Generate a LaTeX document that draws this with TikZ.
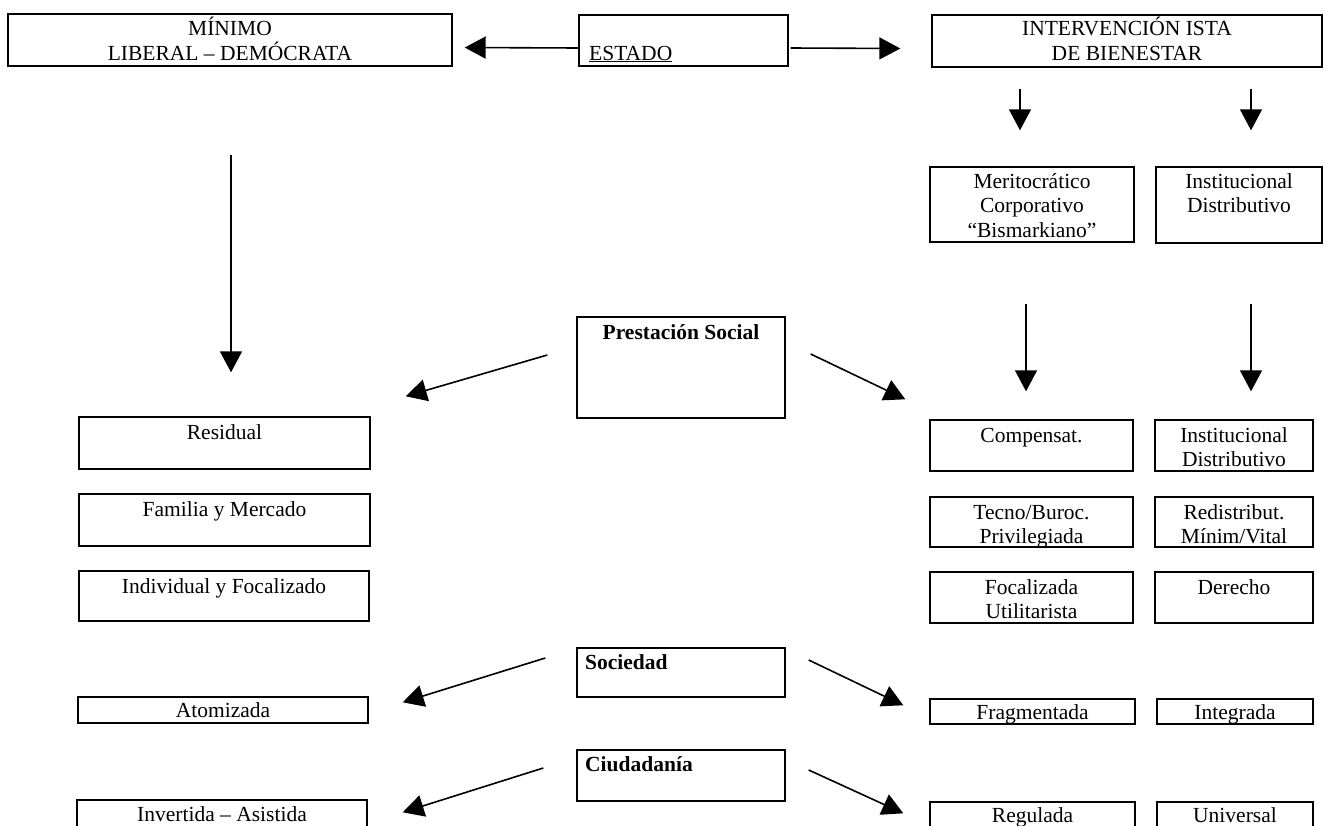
\documentclass[tikz,border=0pt]{standalone}
\usepackage{fontspec}
\setmainfont{Liberation Serif}
\usetikzlibrary{arrows.meta,fit}
\begin{document}
\begin{tikzpicture}[x=1pt,y=-1pt,
  bx/.style={draw, line width=1.4pt, inner sep=0pt},
  txt/.style={anchor=base, inner sep=0pt, font=\fontsize{21.5}{24.5}\selectfont},
  btxt/.style={anchor=base west, inner sep=0pt, font=\fontsize{21.5}{24.5}\selectfont\bfseries},
  arr/.style={line width=1.6pt, -{Triangle[length=21pt,width=22pt]}}]
\fill[white] (0,0) rectangle (1325,825);
\useasboundingbox (0,0) rectangle (1325,825);
% boxes
\node[bx, fit={(8,14)(452,66)}] (minimo) {};
\node[bx, fit={(579,15)(788,66)}] (estado) {};
\node[bx, fit={(932,15)(1322,67)}] (interv) {};
\node[bx, fit={(930,167)(1134,242)}] (merit) {};
\node[bx, fit={(1156,167)(1322,243)}] (inst1) {};
\node[bx, fit={(577,317)(785,418)}] (prest) {};
\node[bx, fit={(79,417)(370,469)}] (resid) {};
\node[bx, fit={(79,494)(370,546)}] (famil) {};
\node[bx, fit={(79,571)(369,621)}] (indiv) {};
\node[bx, fit={(78,697)(368,723)}] (atom) {};
\node[bx, fit={(77,800)(367,840)}] (invert) {};
\node[bx, fit={(930,420)(1133,471)}] (compens) {};
\node[bx, fit={(1155,420)(1313,471)}] (inst2) {};
\node[bx, fit={(930,497)(1133,547)}] (tecno) {};
\node[bx, fit={(1155,497)(1313,547)}] (redis) {};
\node[bx, fit={(930,572)(1133,623)}] (focal) {};
\node[bx, fit={(1155,572)(1313,623)}] (derech) {};
\node[bx, fit={(577,648)(785,697)}] (socied) {};
\node[bx, fit={(577,750)(785,801)}] (ciudad) {};
\node[bx, fit={(930,699)(1135,724)}] (frag) {};
\node[bx, fit={(1157,699)(1313,724)}] (integ) {};
\node[bx, fit={(930,802)(1135,840)}] (regul) {};
\node[bx, fit={(1157,802)(1313,840)}] (univ) {};
% texts
\node[txt] (t1) at (230,35.5) {MÍNIMO};
\node[txt] (t2) at (230,60) {LIBERAL – DEMÓCRATA};
\node[txt, anchor=base west] (t3) at (589,60) {\underline{ESTADO}};
\node[txt] (t4) at (1127,35.5) {INTERVENCIÓN ISTA};
\node[txt] (t5) at (1127,60) {DE BIENESTAR};
\node[txt] (t6) at (1032,188) {Meritocrático};
\node[txt] (t7) at (1032,212.5) {Corporativo};
\node[txt] (t8) at (1032,237) {“Bismarkiano”};
\node[txt] (t9) at (1239,188) {Institucional};
\node[txt] (t10) at (1239,212.5) {Distributivo};
\node[txt, font=\fontsize{21.5}{24.5}\selectfont\bfseries] (t11) at (681,339) {Prestación Social};
\node[txt] (t12) at (224.5,439) {Residual};
\node[txt] (t13) at (224.5,516) {Familia y Mercado};
\node[txt] (t14) at (224,593) {Individual y Focalizado};
\node[txt] (t15) at (223,717) {Atomizada};
\node[txt] (t16) at (222,821) {Invertida – Asistida};
\node[txt] (t17) at (1031.5,442) {Compensat.};
\node[txt] (t18) at (1234,442) {Institucional};
\node[txt] (t19) at (1234,466) {Distributivo};
\node[txt] (t20) at (1031.5,519) {Tecno/Buroc.};
\node[txt] (t21) at (1031.5,543) {Privilegiada};
\node[txt] (t22) at (1234,519) {Redistribut.};
\node[txt] (t23) at (1234,543) {Mínim/Vital};
\node[txt] (t24) at (1031.5,594) {Focalizada};
\node[txt] (t25) at (1031.5,618) {Utilitarista};
\node[txt] (t26) at (1234,594) {Derecho};
\node[btxt] (t27) at (585,669) {Sociedad};
\node[btxt] (t28) at (585,771) {Ciudadanía};
\node[txt] (t29) at (1032.5,719) {Fragmentada};
\node[txt] (t30) at (1235,719) {Integrada};
\node[txt] (t31) at (1032.5,822) {Regulada};
\node[txt] (t32) at (1235,822) {Universal};
% arrows
\draw[arr] ([yshift=-7.5pt]estado.west) -- ([xshift=12pt,yshift=-7.5pt]minimo.east);
\draw[arr] ([xshift=2pt,yshift=-7.5pt]estado.east) -- ([xshift=-31pt,yshift=-7.5pt]interv.west);
\draw[arr] ([xshift=-107pt,yshift=-21pt]interv.south) -- ([xshift=-12pt,yshift=36pt]merit.north);
\draw[arr] ([xshift=124pt,yshift=-21pt]interv.south) -- ([xshift=12pt,yshift=36pt]inst1.north);
\draw[arr] ([xshift=1pt,yshift=-88pt]minimo.south) -- ([xshift=6.5pt,yshift=44pt]resid.north);
\draw[arr] ([xshift=-6pt,yshift=-61pt]merit.south) -- ([xshift=-5.5pt,yshift=28pt]compens.north);
\draw[arr] ([xshift=12pt,yshift=-60pt]inst1.south) -- ([xshift=17pt,yshift=28pt]inst2.north);
\draw[arr] ([shift={(-29pt,12.5pt)}]prest.west) -- ([shift={(35pt,20pt)}]resid.north east);
\draw[arr] ([shift={(25pt,13.5pt)}]prest.east) -- ([shift={(-24pt,20pt)}]compens.north west);
\draw[arr] ([shift={(-31pt,14.5pt)}]socied.west) -- ([shift={(34pt,-6pt)}]atom.north east);
\draw[arr] ([shift={(23pt,12.5pt)}]socied.east) -- ([shift={(-26pt,-7pt)}]frag.north west);
\draw[arr] ([shift={(-33pt,7.5pt)}]ciudad.west) -- ([shift={(35pt,-13pt)}]invert.north east);
\draw[arr] ([shift={(23pt,5.5pt)}]ciudad.east) -- ([shift={(-26pt,-12pt)}]regul.north west);
\end{tikzpicture}
\end{document}
